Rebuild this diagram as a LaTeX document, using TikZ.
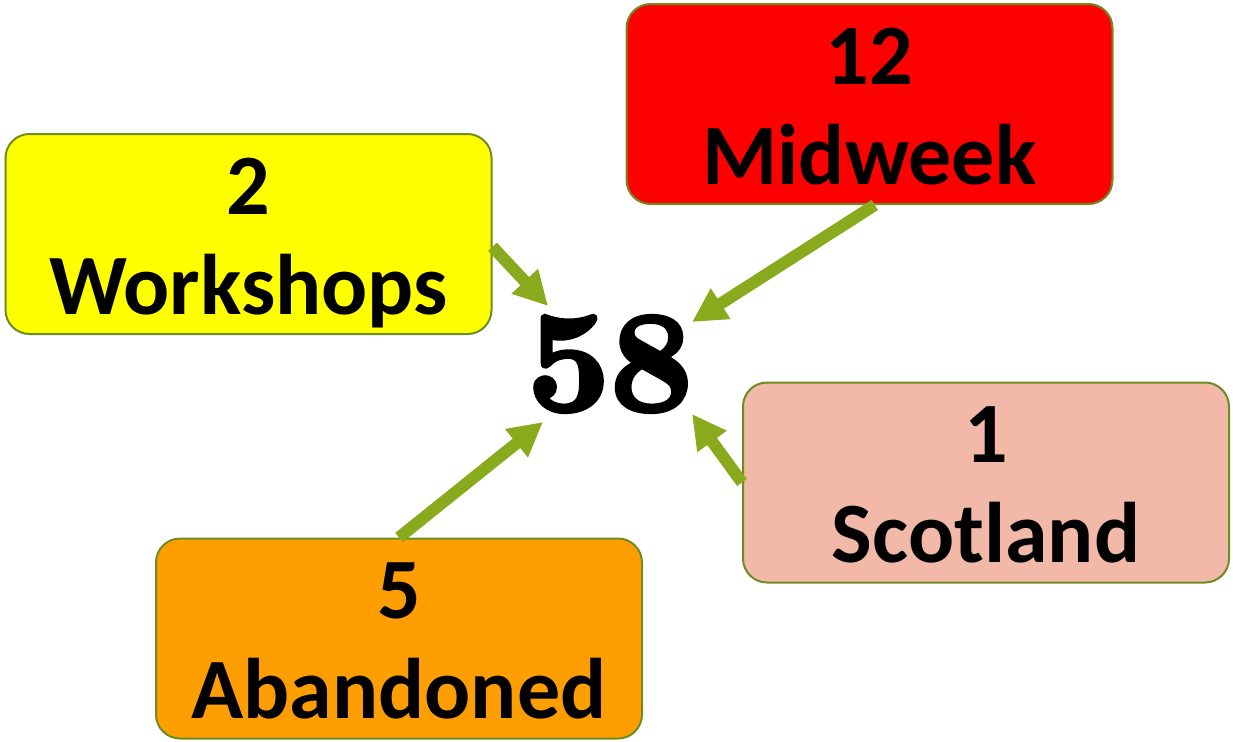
\documentclass[tikz,border=0pt]{standalone}
\usepackage{fontspec}
\newfontfamily\boxfont{Carlito}
\newfontfamily\totalfont{lmroman10-bold.otf}[FakeBold=3]
\usetikzlibrary{arrows.meta}
\definecolor{boxedge}{HTML}{6F8C22}
\definecolor{arrowgreen}{HTML}{8AAA1E}
\definecolor{lemon}{HTML}{FFFF00}
\definecolor{salmon}{HTML}{F2B9A8}
\definecolor{amber}{HTML}{FF9E00}
\begin{document}
\begin{tikzpicture}[x=0.5pt, y=-0.5pt,
  countbox/.style={draw=boxedge, line width=1pt, rounded corners=12pt,
    minimum width=243pt, minimum height=100pt, inner sep=0pt, align=center,
    text height=90pt, text depth=10pt,
    font=\boxfont\bfseries\fontsize{43}{50}\selectfont},
  feed/.style={draw=arrowgreen, line width=6pt, -{Triangle[width=17pt, length=17pt]}}]
  \useasboundingbox (0,0) rectangle (1233,741);
  % the four counts
  \node[countbox, fill=lemon] (work) at (248.5,234) {2\\Workshops};
  \node[countbox, fill=red] (mid) at (869.5,104) {12\\Midweek};
  \node[countbox, fill=salmon] (scot) at (986,482.5) {1\\Scotland};
  \node[countbox, fill=amber] (aban) at (399,638.5) {5\\Abandoned};
  % total
  \node[font=\totalfont\fontsize{72}{72}\selectfont] (total) at (610,364) {58};
  \coordinate (tipW) at (548,306);
  \coordinate (tipM) at (692,322);
  \coordinate (tipS) at (692,414);
  \coordinate (tipA) at (543,422);
  \draw[feed] (work.-3.3) -- (tipW);
  \draw[feed] (mid.-87) -- (tipM);
  \draw[feed] (scot.west) -- (tipS);
  \draw[feed] (aban.north) -- (tipA);
\end{tikzpicture}
\end{document}
